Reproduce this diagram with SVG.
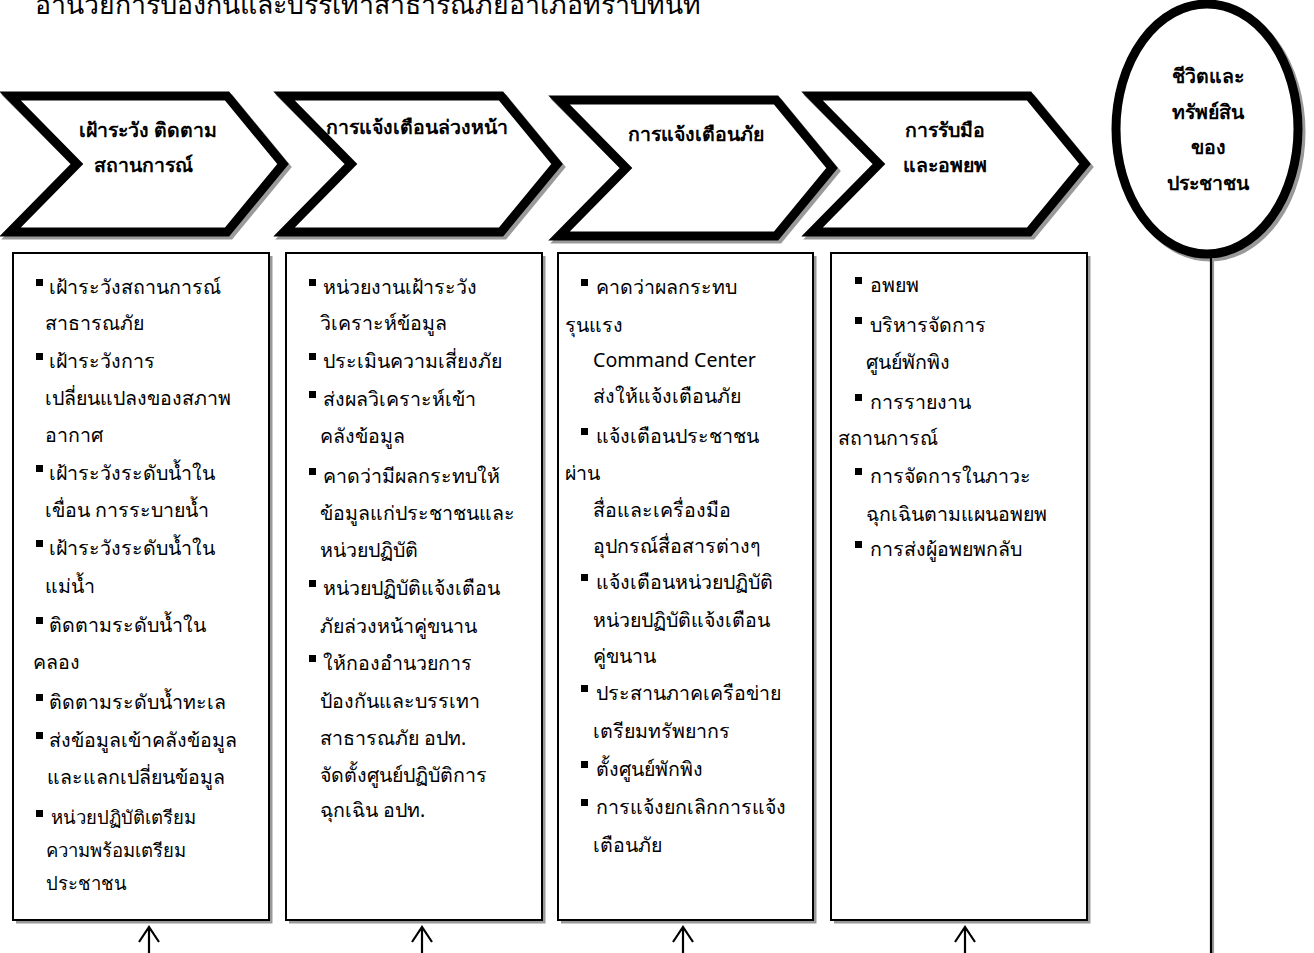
<svg xmlns="http://www.w3.org/2000/svg" width="1314" height="953" viewBox="0 0 1314 953">
<defs>
<style>
.bg{fill:#ffffff}
.chev{fill:#ffffff;stroke:none}
.chevS{fill:none;stroke:#000;stroke-width:9;stroke-linejoin:miter;stroke-miterlimit:6}
.chevSh{fill:none;stroke:#9a9a9a;stroke-width:9;stroke-linejoin:miter;stroke-miterlimit:6}
.box{fill:#ffffff;stroke:#000;stroke-width:2}
.boxSh{fill:none;stroke:#999;stroke-width:3}
.head{font-family:"Noto Sans","DejaVu Sans",sans-serif;font-size:19.5px;font-weight:bold;fill:#000;text-anchor:middle}
.t{font-family:"Noto Sans","DejaVu Sans",sans-serif;font-size:19.6px;fill:#000}
.ts{font-family:"Noto Sans","DejaVu Sans",sans-serif;font-size:18.5px;fill:#000}
.title{font-family:"Noto Sans","DejaVu Sans",sans-serif;font-size:26.7px;fill:#000}
.conn{fill:none;stroke:#000;stroke-width:2.2}
.connSh{fill:none;stroke:#999;stroke-width:2.2}
</style>
<rect id="b" width="7" height="7" fill="#000"/>
</defs>
<rect class="bg" x="0" y="0" width="1314" height="953"/>

<text class="title" x="35" y="14">อำนวยการป้องกันและบรรเทาสาธารณภัยอำเภอทราบทันที</text>

<!-- chevrons -->
<g id="chev1">
<path class="chevSh" d="M 12,99 L 230,99 L 286,167 L 230,235 L 12,235 L 80,167 Z"/>
<path class="chev" d="M 10,96 L 227,96 L 283,164 L 227,232 L 10,232 L 77,164 Z"/>
<text class="head" x="148" y="137">เฝ้าระวัง ติดตาม</text>
<text class="head" x="143" y="172">สถานการณ์</text>
<path class="chevS" d="M 10,96 L 227,96 L 283,164 L 227,232 L 10,232 L 77,164 Z"/>
</g>
<g id="chev2">
<path class="chevSh" d="M 286,99 L 504,99 L 560,167 L 504,235 L 286,235 L 354,167 Z"/>
<path class="chev" d="M 284,96 L 501,96 L 557,164 L 501,232 L 284,232 L 351,164 Z"/>
<text class="head" x="417" y="134">การแจ้งเตือนล่วงหน้า</text>
<path class="chevS" d="M 284,96 L 501,96 L 557,164 L 501,232 L 284,232 L 351,164 Z"/>
</g>
<g id="chev3">
<path class="chevSh" d="M 561,103 L 779,103 L 835,171 L 779,239 L 561,239 L 629,171 Z"/>
<path class="chev" d="M 559,100 L 776,100 L 832,168 L 776,236 L 559,236 L 626,168 Z"/>
<text class="head" x="696" y="141">การแจ้งเตือนภัย</text>
<path class="chevS" d="M 559,100 L 776,100 L 832,168 L 776,236 L 559,236 L 626,168 Z"/>
</g>
<g id="chev4">
<path class="chevSh" d="M 814,99 L 1032,99 L 1088,167 L 1032,235 L 814,235 L 882,167 Z"/>
<path class="chev" d="M 812,96 L 1029,96 L 1085,164 L 1029,232 L 812,232 L 879,164 Z"/>
<text class="head" x="945" y="137">การรับมือ</text>
<text class="head" x="945" y="172">และอพยพ</text>
<path class="chevS" d="M 812,96 L 1029,96 L 1085,164 L 1029,232 L 812,232 L 879,164 Z"/>
</g>

<!-- outcome ellipse -->
<g id="outcome">
<ellipse cx="1210" cy="132" rx="91" ry="125" fill="none" stroke="#999" stroke-width="9"/>
<ellipse cx="1207" cy="129" rx="91" ry="125" fill="#fff" stroke="#000" stroke-width="9"/>
<text class="head" x="1208" y="83">ชีวิตและ</text>
<text class="head" x="1208" y="119">ทรัพย์สิน</text>
<text class="head" x="1208" y="154">ของ</text>
<text class="head" x="1208" y="190">ประชาชน</text>
</g>

<!-- boxes -->
<g id="box1">
<path class="boxSh" d="M 271,256 L 271,922 L 16,922"/>
<rect class="box" x="13" y="253" width="256" height="667"/>
<use href="#b" x="36" y="279"/><text class="t" x="49" y="294">เฝ้าระวังสถานการณ์</text>
<text class="t" x="45" y="330">สาธารณภัย</text>
<use href="#b" x="36" y="353"/><text class="t" x="49" y="368">เฝ้าระวังการ</text>
<text class="t" x="45" y="405">เปลี่ยนแปลงของสภาพ</text>
<text class="t" x="45" y="442">อากาศ</text>
<use href="#b" x="36" y="465"/><text class="t" x="49" y="480">เฝ้าระวังระดับน้ำใน</text>
<text class="t" x="45" y="517">เขื่อน การระบายน้ำ</text>
<use href="#b" x="36" y="540"/><text class="t" x="49" y="555">เฝ้าระวังระดับน้ำใน</text>
<text class="t" x="45" y="593">แม่น้ำ</text>
<use href="#b" x="36" y="617"/><text class="t" x="49" y="632">ติดตามระดับน้ำใน</text>
<text class="t" x="33" y="669">คลอง</text>
<use href="#b" x="36" y="694"/><text class="t" x="49" y="709">ติดตามระดับน้ำทะเล</text>
<use href="#b" x="36" y="732"/><text class="t" x="49" y="747">ส่งข้อมูลเข้าคลังข้อมูล</text>
<text class="t" x="47" y="784">และแลกเปลี่ยนข้อมูล</text>
<use href="#b" x="36" y="810"/><text class="ts" x="51" y="824">หน่วยปฏิบัติเตรียม</text>
<text class="ts" x="46" y="857">ความพร้อมเตรียม</text>
<text class="ts" x="46" y="890">ประชาชน</text>
</g>

<g id="box2">
<path class="boxSh" d="M 544,256 L 544,922 L 289,922"/>
<rect class="box" x="286" y="253" width="256" height="667"/>
<use href="#b" x="309" y="279"/><text class="t" x="323" y="294">หน่วยงานเฝ้าระวัง</text>
<text class="t" x="320" y="330">วิเคราะห์ข้อมูล</text>
<use href="#b" x="309" y="353"/><text class="t" x="323" y="368">ประเมินความเสี่ยงภัย</text>
<use href="#b" x="309" y="391"/><text class="t" x="323" y="406">ส่งผลวิเคราะห์เข้า</text>
<text class="t" x="320" y="443">คลังข้อมูล</text>
<use href="#b" x="309" y="468"/><text class="t" x="323" y="483">คาดว่ามีผลกระทบให้</text>
<text class="t" x="320" y="520">ข้อมูลแก่ประชาชนและ</text>
<text class="t" x="320" y="557">หน่วยปฏิบัติ</text>
<use href="#b" x="309" y="580"/><text class="t" x="323" y="595">หน่วยปฏิบัติแจ้งเตือน</text>
<text class="t" x="320" y="633">ภัยล่วงหน้าคู่ขนาน</text>
<use href="#b" x="309" y="655"/><text class="t" x="323" y="670">ให้กองอำนวยการ</text>
<text class="t" x="320" y="708">ป้องกันและบรรเทา</text>
<text class="t" x="320" y="745">สาธารณภัย อปท.</text>
<text class="t" x="320" y="782">จัดตั้งศูนย์ปฏิบัติการ</text>
<text class="t" x="320" y="817">ฉุกเฉิน อปท.</text>
</g>

<g id="box3">
<path class="boxSh" d="M 815,256 L 815,922 L 561,922"/>
<rect class="box" x="558" y="253" width="255" height="667"/>
<use href="#b" x="581" y="279"/><text class="t" x="596" y="294">คาดว่าผลกระทบ</text>
<text class="t" x="565" y="332">รุนแรง</text>
<text class="t" x="593" y="367">Command Center</text>
<text class="t" x="593" y="403">ส่งให้แจ้งเตือนภัย</text>
<use href="#b" x="581" y="428"/><text class="t" x="596" y="443">แจ้งเตือนประชาชน</text>
<text class="t" x="565" y="480">ผ่าน</text>
<text class="t" x="593" y="517">สื่อและเครื่องมือ</text>
<text class="t" x="593" y="553">อุปกรณ์สื่อสารต่างๆ</text>
<use href="#b" x="581" y="574"/><text class="t" x="596" y="589">แจ้งเตือนหน่วยปฏิบัติ</text>
<text class="t" x="593" y="627">หน่วยปฏิบัติแจ้งเตือน</text>
<text class="t" x="593" y="663">คู่ขนาน</text>
<use href="#b" x="581" y="685"/><text class="t" x="596" y="700">ประสานภาคเครือข่าย</text>
<text class="t" x="593" y="738">เตรียมทรัพยากร</text>
<use href="#b" x="581" y="761"/><text class="t" x="596" y="776">ตั้งศูนย์พักพิง</text>
<use href="#b" x="581" y="799"/><text class="t" x="596" y="814">การแจ้งยกเลิกการแจ้ง</text>
<text class="t" x="593" y="852">เตือนภัย</text>
</g>

<g id="box4">
<path class="boxSh" d="M 1089,256 L 1089,922 L 834,922"/>
<rect class="box" x="831" y="253" width="256" height="667"/>
<use href="#b" x="855" y="277"/><text class="t" x="870" y="292">อพยพ</text>
<use href="#b" x="855" y="317"/><text class="t" x="870" y="332">บริหารจัดการ</text>
<text class="t" x="866" y="369">ศูนย์พักพิง</text>
<use href="#b" x="855" y="394"/><text class="t" x="870" y="409">การรายงาน</text>
<text class="t" x="838" y="445">สถานการณ์</text>
<use href="#b" x="855" y="468"/><text class="t" x="870" y="483">การจัดการในภาวะ</text>
<text class="t" x="866" y="521">ฉุกเฉินตามแผนอพยพ</text>
<use href="#b" x="855" y="541"/><text class="t" x="870" y="556">การส่งผู้อพยพกลับ</text>
</g>

<!-- connectors -->
<g id="connectors">
<path class="connSh" d="M 1213,258 L 1213,953"/>
<path class="conn" d="M 1211,257 L 1211,953"/>
<path class="conn" d="M 149,953 L 149,927 M 139,942 L 149,927 L 159,942"/>
<path class="conn" d="M 422,953 L 422,927 M 412,942 L 422,927 L 432,942"/>
<path class="conn" d="M 683,953 L 683,927 M 673,942 L 683,927 L 693,942"/>
<path class="conn" d="M 965,953 L 965,927 M 955,942 L 965,927 L 975,942"/>
</g>
</svg>
